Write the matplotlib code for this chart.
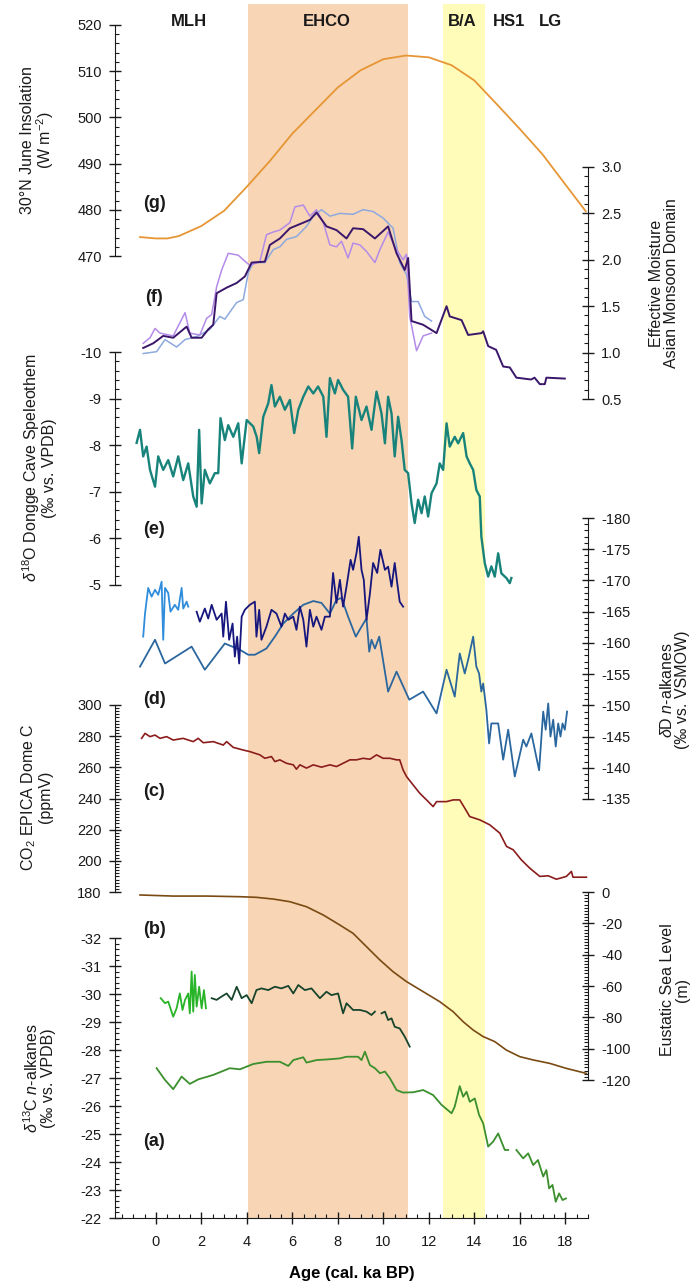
import numpy as np
import matplotlib
matplotlib.use('Agg')
import matplotlib.pyplot as plt
from matplotlib.ticker import MultipleLocator

plt.rcParams['font.family'] = ['Liberation Sans', 'DejaVu Sans']
plt.rcParams['mathtext.fontset'] = 'custom'
plt.rcParams['mathtext.rm'] = 'Liberation Sans'
plt.rcParams['mathtext.it'] = 'Liberation Sans:italic'
plt.rcParams['mathtext.bf'] = 'Liberation Sans:bold'
plt.rcParams['axes.unicode_minus'] = False

# ── data (age in cal. ka BP) ────────────────────────────────────────────────
ins_age = [-0.7, 0, 0.5, 1, 2, 3, 4, 5, 6, 7, 8, 9, 10, 11, 12, 13, 14, 15, 16, 17, 18, 18.9]
ins_val = [474.1, 473.8, 473.8, 474.3, 476.5, 479.8, 485.0, 490.5, 496.5, 501.5, 506.5, 510.2,
           512.6, 513.4, 513.0, 511.3, 508.0, 502.8, 497.5, 492.0, 485.5, 479.7]

moist_age = [-0.56, -0.12, 0.32, 0.76, 1.35, 1.57, 2.01, 2.30, 2.52, 2.67, 3.11, 3.55, 3.91, 4.21,
             4.79, 5.01, 5.45, 5.89, 6.48, 6.77, 7.06, 7.50, 7.94, 8.38, 8.67, 9.11, 9.63, 10.21,
             10.58, 10.94, 11.09, 11.24, 11.75, 12.34, 12.78, 12.92, 13.44, 13.73, 14.32, 14.39,
             14.61, 14.96, 15.27, 15.56, 15.85, 16.50, 16.65, 16.88, 17.10, 17.17, 17.98]
moist_val = [1.05, 1.10, 1.18, 1.16, 1.28, 1.16, 1.16, 1.25, 1.30, 1.64, 1.70, 1.75, 1.82, 1.97,
             1.98, 2.16, 2.23, 2.34, 2.40, 2.43, 2.51, 2.36, 2.32, 2.23, 2.34, 2.33, 2.23, 2.36,
             2.07, 1.89, 2.02, 1.34, 1.30, 1.21, 1.50, 1.39, 1.35, 1.19, 1.21, 1.23,
             1.07, 1.03, 0.85, 0.84, 0.73, 0.71, 0.73, 0.66, 0.66, 0.73, 0.72]

lav_age = [-0.56, -0.26, -0.04, 0.18, 0.76, 1.28, 1.49, 1.93, 2.23, 2.45, 2.67, 2.89, 3.18, 3.62,
           3.84, 4.13, 4.57, 4.86, 5.16, 5.45, 5.89, 6.11, 6.48, 6.77, 7.06, 7.36, 7.65, 7.94,
           8.16, 8.45, 8.67, 8.97, 9.26, 9.63, 9.85, 10.21, 10.50, 10.87, 11.02, 11.16, 11.46,
           11.75, 12.12]
lav_val = [1.10, 1.16, 1.26, 1.21, 1.18, 1.43, 1.21, 1.19, 1.37, 1.41, 1.71, 1.89, 2.07, 2.05,
           2.00, 1.94, 1.98, 2.27, 2.30, 2.32, 2.40, 2.57, 2.59, 2.47, 2.54, 2.40, 2.16, 2.14,
           2.20, 2.02, 2.18, 2.16, 2.09, 1.97, 2.11, 2.30, 2.14, 2.00, 2.06, 1.39, 1.02,
           1.18, 1.21]

lblue_age = [-0.56, 0.03, 0.40, 0.91, 1.28, 1.86, 2.37, 2.81, 3.03, 3.55, 3.84, 4.06, 4.28, 4.79,
             5.16, 5.45, 5.74, 6.18, 6.62, 6.92, 7.28, 7.65, 8.09, 8.67, 9.11, 9.55, 9.99, 10.43,
             10.72, 11.02, 11.24, 11.53, 11.82, 12.12]
lblue_val = [0.99, 1.01, 1.14, 1.06, 1.14, 1.18, 1.25, 1.39, 1.36, 1.54, 1.57, 1.86, 1.97, 1.97,
             2.11, 2.14, 2.22, 2.25, 2.36, 2.47, 2.54, 2.47, 2.50, 2.49, 2.54, 2.52, 2.45, 2.34,
             1.97, 1.84, 1.55, 1.55, 1.39, 1.34]

d18o_age = [-0.85, -0.70, -0.56, -0.41, -0.26, -0.04, 0.10, 0.32, 0.54, 0.76, 0.98, 1.20, 1.42,
            1.64, 1.79, 1.90, 2.01, 2.15, 2.37, 2.59, 2.74, 2.84, 3.03, 3.18, 3.40, 3.62, 3.77,
            3.99, 4.28, 4.43, 4.54, 4.72, 4.94, 5.08, 5.23, 5.45, 5.67, 5.89, 6.08, 6.26, 6.48,
            6.70, 6.92, 7.13, 7.36, 7.50, 7.65, 7.87, 8.01, 8.23, 8.45, 8.63, 8.79, 9.04, 9.26,
            9.48, 9.70, 9.92, 10.07, 10.21, 10.36, 10.50, 10.65, 10.80, 10.94, 11.09, 11.24,
            11.38, 11.53, 11.68, 11.82, 11.97, 12.12, 12.34, 12.48, 12.63, 12.78, 12.92, 13.14,
            13.29, 13.51, 13.66, 13.80, 13.95, 14.09, 14.24, 14.31, 14.46, 14.61, 14.75, 14.90,
            15.05, 15.19, 15.41, 15.56, 15.63]
d18o_val = [-8.05, -8.33, -7.76, -7.97, -7.47, -7.11, -7.76, -7.47, -7.68, -7.33, -7.76, -7.25,
            -7.61, -6.90, -6.68, -8.33, -6.75, -7.47, -7.18, -7.40, -7.40, -8.58, -8.11, -8.43,
            -8.18, -8.47, -7.61, -8.54, -8.40, -8.18, -7.83, -8.61, -8.90, -9.29, -8.83, -9.04,
            -8.76, -8.97, -8.26, -8.76, -9.04, -9.26, -9.11, -9.26, -9.04, -8.18, -9.44, -9.11,
            -9.40, -9.19, -9.04, -7.93, -9.04, -8.54, -8.83, -8.33, -9.15, -8.68, -8.04, -9.04,
            -8.68, -7.76, -8.61, -8.11, -7.47, -7.40, -6.75, -6.33, -6.83, -6.54, -6.90, -6.47,
            -6.97, -7.18, -7.61, -7.47, -8.47, -7.97, -8.18, -8.04, -8.26, -7.76, -7.61, -7.47,
            -7.04, -6.90, -6.04, -5.47, -5.18, -5.40, -5.18, -5.68, -5.25, -5.15, -5.04, -5.15]

navy_age = [1.79, 1.93, 2.15, 2.30, 2.45, 2.67, 2.89, 2.96, 3.08, 3.22, 3.37, 3.47, 3.57, 3.66,
            3.77, 3.91, 4.13, 4.35, 4.42, 4.54, 4.64, 4.86, 5.08, 5.30, 5.52, 5.67, 5.82, 6.04,
            6.18, 6.33, 6.48, 6.62, 6.77, 6.92, 7.06, 7.28, 7.43, 7.65, 7.79, 7.94, 8.09, 8.23,
            8.38, 8.56, 8.67, 8.82, 8.92, 9.04, 9.14, 9.26, 9.41, 9.55, 9.73, 9.87, 10.07, 10.21,
            10.36, 10.50, 10.61, 10.72, 10.87]
navy_val = [-165.0, -163.4, -165.5, -163.9, -166.1, -163.7, -164.7, -161.0, -166.6, -160.5,
            -163.1, -157.8, -161.0, -156.7, -164.2, -165.3, -166.1, -166.6, -161.0, -165.3,
            -160.5, -162.6, -165.3, -164.7, -162.6, -164.7, -163.7, -164.2, -162.1, -165.8,
            -163.7, -159.4, -165.3, -162.6, -164.2, -162.1, -164.2, -164.2, -171.2, -166.4,
            -170.1, -165.8, -169.0, -173.3, -171.7, -174.4, -177.0, -171.7, -170.1, -163.7,
            -167.9, -172.8, -171.2, -174.9, -171.7, -172.2, -169.0, -172.8, -169.6, -166.6,
            -165.8]

sky_age = [-0.56, -0.48, -0.34, -0.19, -0.04, 0.10, 0.25, 0.32, 0.40, 0.54, 0.64, 0.83, 0.98,
           1.13, 1.20, 1.35, 1.42]
sky_val = [-161.0, -164.7, -168.8, -167.4, -168.5, -167.7, -169.8, -160.5, -168.8, -168.0,
           -165.0, -166.1, -165.3, -168.8, -165.5, -166.6, -165.8]

dd_age = [-0.70, -0.04, 0.40, 1.57, 2.15, 3.03, 3.69, 4.06, 4.35, 4.86, 5.23, 5.60, 6.04, 6.48,
          6.92, 7.28, 7.65, 7.94, 8.16, 8.45, 8.79, 9.04, 9.26, 9.38, 9.48, 9.63, 9.82, 10.21,
          10.58, 11.14, 11.75, 12.34, 12.78, 13.14, 13.36, 13.58, 13.73, 13.95, 14.09, 14.21,
          14.31, 14.39, 14.53, 14.65, 14.75, 15.05, 15.27, 15.49, 15.78, 16.15, 16.29, 16.51,
          16.85, 17.03, 17.14, 17.25, 17.35, 17.47, 17.58, 17.69, 17.79, 17.88, 17.98, 18.08]
dd_val = [-156.2, -160.5, -156.7, -159.4, -155.7, -159.9, -158.9, -158.1, -158.1, -159.1,
          -161.0, -163.1, -164.7, -166.1, -166.7, -166.4, -164.7, -166.9, -167.2, -164.2,
          -161.0, -162.6, -163.9, -158.6, -160.5, -159.1, -161.0, -152.2, -155.4, -150.9,
          -152.2, -148.7, -155.7, -151.4, -158.3, -155.1, -157.3, -161.0, -156.2, -155.1,
          -152.2, -153.5, -149.3, -143.9, -147.1, -147.1, -141.3, -146.1, -138.6, -144.5,
          -143.4, -145.5, -139.6, -149.0, -146.1, -150.3, -145.0, -147.7, -143.4, -147.1,
          -145.0, -147.1, -146.1, -149.0]

co2_age = [-0.63, -0.48, -0.26, -0.04, 0.18, 0.47, 0.76, 1.20, 1.64, 1.86, 2.08, 2.52, 2.96,
           3.11, 3.40, 3.84, 4.13, 4.57, 4.79, 5.08, 5.23, 5.45, 5.74, 6.04, 6.18, 6.33, 6.62,
           6.92, 7.28, 7.65, 7.94, 8.23, 8.53, 8.82, 9.11, 9.41, 9.70, 9.99, 10.29, 10.58,
           10.72, 10.87, 11.02, 11.31, 11.60, 11.90, 12.19, 12.34, 12.78, 13.07, 13.36, 13.58,
           13.80, 14.24, 14.68, 15.12, 15.42, 15.71, 16.07, 16.44, 16.88, 17.25, 17.61, 18.05,
           18.27, 18.34, 18.93]
co2_val = [278.6, 281.8, 279.7, 280.7, 278.6, 279.7, 277.5, 278.6, 276.5, 278.6, 275.8, 276.5,
           274.3, 276.5, 272.8, 271.1, 270.1, 268.0, 265.8, 266.9, 263.7, 264.8, 262.6, 261.6,
           258.8, 261.6, 259.5, 261.6, 260.1, 261.6, 260.5, 262.6, 264.8, 264.8, 265.8, 265.2,
           268.0, 265.8, 265.8, 264.8, 264.8, 258.3, 254.1, 248.7, 243.4, 239.1, 234.8, 238.0,
           238.0, 239.1, 239.1, 233.8, 228.4, 226.3, 223.1, 217.8, 209.2, 207.1, 200.6, 195.3,
           190.0, 190.4, 188.2, 190.0, 193.2, 189.5, 189.5]

sea_age = [-0.70, 0.76, 2.23, 3.69, 4.42, 5.16, 5.89, 6.62, 7.36, 8.09, 8.67, 9.26, 9.85, 10.43,
           11.02, 11.75, 12.48, 13.07, 13.51, 13.95, 14.39, 14.90, 15.41, 16.00, 16.59, 17.32,
           18.05, 18.93]
sea_val = [-1.9, -2.6, -2.6, -3.0, -3.4, -4.5, -6.2, -9.4, -14.7, -21.1, -26.4, -34.9, -43.4,
           -50.9, -57.2, -63.6, -70.0, -76.4, -82.8, -88.1, -92.3, -95.5, -100.9, -105.1,
           -107.2, -109.4, -112.6, -115.8]

c13_bright_age = [0.21, 0.40, 0.54, 0.76, 0.91, 1.05, 1.17, 1.28, 1.42, 1.49, 1.57, 1.64, 1.71,
                  1.79, 1.90, 2.01, 2.11, 2.20]
c13_bright_val = [-29.85, -29.67, -29.73, -29.19, -29.49, -30.02, -29.43, -29.79, -30.02, -29.31,
                  -30.80, -29.37, -30.68, -29.55, -30.26, -29.49, -30.14, -29.49]

c13_dark_age = [2.45, 2.67, 2.89, 3.11, 3.33, 3.55, 3.77, 3.99, 4.21, 4.42, 4.64, 4.94, 5.23,
                5.52, 5.82, 6.04, 6.26, 6.55, 6.84, 7.21, 7.50, 7.72, 8.01, 8.23, 8.38, 8.67,
                8.97, 9.26, 9.48, 9.63]
c13_dark_val = [-29.85, -29.79, -29.91, -30.02, -29.79, -30.26, -29.85, -29.96, -29.67, -30.14,
                -30.20, -30.14, -30.26, -30.20, -30.29, -30.02, -30.32, -30.14, -30.20, -29.85,
                -30.08, -29.96, -30.02, -29.31, -29.67, -29.43, -29.43, -29.37, -29.25, -29.37]
c13_dark2_age = [9.92, 10.07, 10.21, 10.36, 10.50, 10.72, 10.94, 11.16]
c13_dark2_val = [-29.31, -29.37, -29.07, -29.13, -28.83, -28.77, -28.48, -28.12]

c13_age = [0.03, 0.40, 0.76, 1.13, 1.49, 1.86, 2.52, 3.25, 3.69, 4.28, 4.86, 5.45, 5.82, 6.04,
           6.48, 6.62, 7.06, 7.65, 8.09, 8.38, 8.89, 9.04, 9.19, 9.41, 9.63, 9.85, 10.07, 10.29,
           10.58, 10.87, 11.31, 11.75, 12.19, 12.56, 13.00, 13.14, 13.36, 13.51, 13.66, 13.80,
           14.02, 14.21, 14.39, 14.61, 14.83, 15.05, 15.34, 15.49]
c13_val = [-27.35, -26.93, -26.60, -27.05, -26.79, -26.95, -27.11, -27.35, -27.31, -27.50,
           -27.58, -27.58, -27.43, -27.64, -27.74, -27.55, -27.64, -27.67, -27.70, -27.76,
           -27.76, -27.64, -27.94, -27.46, -27.35, -27.17, -27.23, -26.99, -26.57, -26.48,
           -26.49, -26.57, -26.39, -26.04, -25.74, -25.98, -26.71, -26.33, -26.51, -26.15,
           -26.27, -25.68, -25.38, -24.55, -24.73, -25.02, -24.43, -24.43]
c13b_age = [15.85, 16.15, 16.37, 16.59, 16.80, 17.03, 17.17, 17.29, 17.44, 17.58, 17.73, 17.88,
            18.03]
c13b_val = [-24.43, -24.13, -24.31, -23.89, -24.07, -23.48, -23.71, -23.06, -23.18, -22.58,
            -22.88, -22.64, -22.70]

periods = ['MLH', 'EHCO', 'B/A', 'HS1', 'LG']
ehco_span = (4.05, 11.1)
ba_span = (12.62, 14.47)

# ── layout (pixel geometry of the 695x1287 figure) ──────────────────────────
W, H = 695, 1287
X0, X1 = 115, 588
XLIM = (-1.8, 19.0)
TXT = '#1a1a1a'


def rect(top, bot):
    return [X0 / W, 1 - bot / H, (X1 - X0) / W, (bot - top) / H]


def ftext(fig, px, py, s, **kw):
    fig.text(px / W, 1 - py / H, s, **kw)


def panel(fig, top, bot, side, ylim, major, minor):
    ax = fig.add_axes(rect(top, bot))
    ax.patch.set_alpha(0)
    ax.set_xlim(XLIM)
    ax.set_ylim(ylim)
    for s in ax.spines.values():
        s.set_visible(False)
    ax.spines[side].set_visible(True)
    ax.spines[side].set_color(TXT)
    ax.xaxis.set_visible(False)
    ax.yaxis.set_ticks_position(side)
    ax.yaxis.set_major_locator(MultipleLocator(major))
    ax.yaxis.set_minor_locator(MultipleLocator(minor))
    ax.tick_params(axis='y', which='major', direction='inout', length=9, width=1,
                   pad=5, labelsize=10.5, colors=TXT)
    ax.tick_params(axis='y', which='minor', direction='in', length=3, width=0.8, colors=TXT)
    return ax


fig = plt.figure(figsize=(W / 100, H / 100), dpi=100)

# background axes: shading + age axis
base = fig.add_axes(rect(4, 1218))
base.set_xlim(XLIM)
base.set_ylim(0, 1)
base.axvspan(*ehco_span, color='#f8d5b5', lw=0, zorder=0)
base.axvspan(*ba_span, color='#fffbb9', lw=0, zorder=0)
for s in ['top', 'left', 'right']:
    base.spines[s].set_visible(False)
base.spines['bottom'].set_color(TXT)
base.set_yticks([])
base.xaxis.set_major_locator(MultipleLocator(2))
base.xaxis.set_minor_locator(MultipleLocator(0.5))
base.tick_params(axis='x', which='major', direction='inout', length=9, width=1,
                 pad=8, labelsize=10.5, colors=TXT)
base.tick_params(axis='x', which='minor', direction='in', length=3, width=0.8, colors=TXT)
base.set_xlabel('Age (cal. ka BP)', fontsize=12, fontweight='bold', labelpad=12)

# (g) insolation
ax = panel(fig, 25, 256, 'left', (470, 520), 10, 2)
ax.plot(ins_age, ins_val, color='#e69634', lw=1.3, clip_on=False)

# (f) effective moisture
ax = panel(fig, 167, 399, 'right', (0.5, 3.0), 0.5, 0.1)
ax.plot(lblue_age, lblue_val, color='#8ea9df', lw=1.1)
ax.plot(lav_age, lav_val, color='#b48be8', lw=1.1)
ax.plot(moist_age, moist_val, color='#3a176a', lw=1.4)

# (e) d18O Dongge cave
ax = panel(fig, 352, 585, 'left', (-5, -10), 1, 0.2)
ax.plot(d18o_age, d18o_val, color='#17837b', lw=1.7, clip_on=False)

# (d) dD n-alkanes
ax = panel(fig, 518, 799, 'right', (-135, -180), 5, 1)
ax.plot(dd_age, dd_val, color='#2b679f', lw=1.3)
ax.plot(navy_age, navy_val, color='#16167e', lw=1.3)
ax.plot(sky_age, sky_val, color='#2f8ddb', lw=1.3)

# (c) CO2
ax = panel(fig, 705, 892, 'left', (180, 300), 20, 2)
ax.plot(co2_age, co2_val, color='#8b1c1c', lw=1.2)

# (b) sea level
ax = panel(fig, 892, 1080, 'right', (-120, 0), 20, 2)
ax.plot(sea_age, sea_val, color='#7a4a12', lw=1.2, clip_on=False)

# (a) d13C n-alkanes
ax = panel(fig, 938, 1218, 'left', (-22, -32), 1, 0.2)
ax.plot(c13_bright_age, c13_bright_val, color='#27b427', lw=1.3)
ax.plot(c13_dark_age, c13_dark_val, color='#17452c', lw=1.3)
ax.plot(c13_dark2_age, c13_dark2_val, color='#17452c', lw=1.3)
ax.plot(c13_age, c13_val, color='#3b8f2c', lw=1.3)
ax.plot(c13b_age, c13b_val, color='#3b8f2c', lw=1.3)

# period names along the top
for name, px in zip(periods, [189, 327, 462, 509, 550]):
    ftext(fig, px, 21, name, ha='center', va='center', fontsize=12, fontweight='bold', color=TXT)

# panel letters
for lab, py in zip(['(g)', '(f)', '(e)', '(d)', '(c)', '(b)', '(a)'],
                   [204, 297, 530, 699, 792, 929, 1142]):
    ftext(fig, 154, py, lab, ha='center', va='center', fontsize=13, fontweight='bold', color=TXT)

# axis titles
lab_kw = dict(ha='center', va='center', rotation=90, fontsize=11.5, color=TXT, linespacing=1.0)
ftext(fig, 38, 140, '30°N June Insolation\n(W m$^{-2}$)', **lab_kw)
ftext(fig, 39, 468, '$\\delta^{18}$O Dongge Cave Speleothem\n(‰ vs. VPDB)', **lab_kw)
ftext(fig, 36, 797, 'CO$_2$ EPICA Dome C\n(ppmV)', **lab_kw)
ftext(fig, 39, 1078, '$\\delta^{13}$C $n$-alkanes\n(‰ vs. VPDB)', **lab_kw)
ftext(fig, 664, 283, 'Effective Moisture\nAsian Monsoon Domain', **lab_kw)
ftext(fig, 675, 690, '$\\delta$D $n$-alkanes\n(‰ vs. VSMOW)', **lab_kw)
ftext(fig, 675, 990, 'Eustatic Sea Level\n(m)', **lab_kw)

fig.savefig('out.png', dpi=100)
